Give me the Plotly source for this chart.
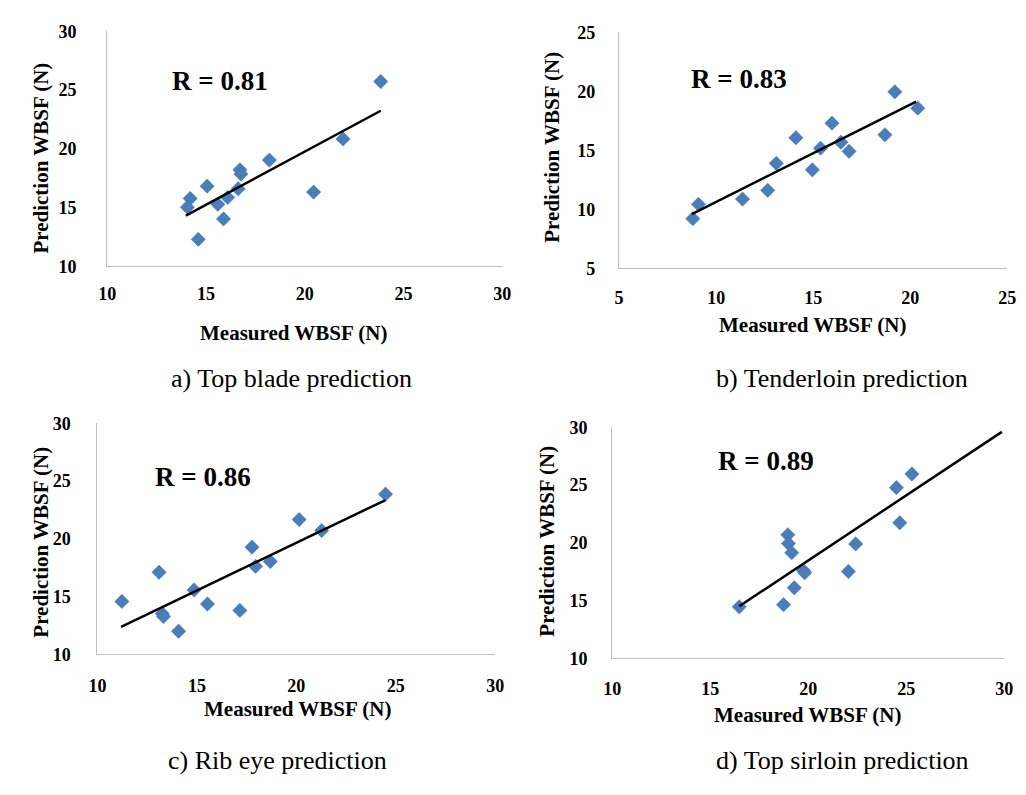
import plotly.graph_objects as go

W, H = 1026, 795

# ---- data ----
a_measured = [23.85, 21.94, 18.21, 16.72, 16.77, 15.06, 16.63, 20.45, 16.10, 14.20, 15.60, 14.06, 15.89, 14.61]
a_predicted = [25.74, 20.85, 19.05, 18.22, 17.86, 16.83, 16.61, 16.33, 15.87, 15.78, 15.28, 15.04, 14.04, 12.30]
a_trend_x = [13.98, 23.85]
a_trend_y = [14.32, 23.25]

b_measured = [19.21, 20.39, 15.97, 14.11, 18.70, 16.43, 15.38, 16.85, 13.10, 14.96, 12.66, 11.36, 9.09, 8.80]
b_predicted = [19.96, 18.58, 17.31, 16.07, 16.32, 15.69, 15.19, 14.92, 13.90, 13.35, 11.61, 10.87, 10.43, 9.21]
b_trend_x = [8.75, 20.31]
b_trend_y = [9.60, 19.13]

c_measured = [24.48, 20.14, 21.27, 17.77, 17.95, 18.69, 13.10, 14.86, 11.23, 15.53, 17.16, 13.26, 13.32, 14.08]
c_predicted = [23.87, 21.67, 20.72, 19.28, 17.62, 18.04, 17.11, 15.57, 14.58, 14.36, 13.80, 13.52, 13.27, 12.00]
c_trend_x = [11.19, 24.48]
c_trend_y = [12.39, 23.36]

d_measured = [25.29, 24.50, 24.67, 22.42, 18.96, 18.99, 19.16, 19.76, 19.82, 22.05, 19.29, 18.74, 16.48]
d_predicted = [25.95, 24.77, 21.73, 19.90, 20.69, 19.93, 19.14, 17.59, 17.40, 17.51, 16.10, 14.64, 14.45]
d_trend_x = [16.48, 29.88]
d_trend_y = [14.50, 29.60]

ticks_10_30 = [10, 15, 20, 25, 30]
ticks_5_25 = [5, 10, 15, 20, 25]

r_labels = ["R = 0.81", "R = 0.83", "R = 0.86", "R = 0.89"]
captions = ["a) Top blade prediction", "b) Tenderloin prediction",
            "c) Rib eye prediction", "d) Top sirloin prediction"]
x_title = "Measured WBSF (N)"
y_title = "Prediction WBSF (N)"

FONT = "Liberation Serif"
BLUE = "#4a7ebb"

panels = [
    dict(mx=a_measured, py=a_predicted, tx=a_trend_x, ty=a_trend_y, rng=[10, 30], ticks=ticks_10_30,
         box=(100, 502, 22, 263), standoff_y=26, standoff_x=11),
    dict(mx=b_measured, py=b_predicted, tx=b_trend_x, ty=b_trend_y, rng=[5, 25], ticks=ticks_5_25,
         box=(621, 1016, 23, 265), standoff_y=19, standoff_x=13),
    dict(mx=c_measured, py=c_predicted, tx=c_trend_x, ty=c_trend_y, rng=[10, 30], ticks=ticks_10_30,
         box=(90, 495, 424, 661), standoff_y=22, standoff_x=15),
    dict(mx=d_measured, py=d_predicted, tx=d_trend_x, ty=d_trend_y, rng=[10, 30], ticks=ticks_10_30,
         box=(614, 1013, 428, 665), standoff_y=20, standoff_x=14),
]

fig = go.Figure()
layout = {}
for i, p in enumerate(panels):
    n = "" if i == 0 else str(i + 1)
    xa, ya = "x" + n, "y" + n
    fig.add_trace(go.Scatter(x=p["mx"], y=p["py"], mode="markers", xaxis=xa, yaxis=ya,
                             marker=dict(symbol="diamond", size=11, color=BLUE,
                                         line=dict(width=0.5, color="#3d6fa8")),
                             showlegend=False, hoverinfo="skip"))
    fig.add_trace(go.Scatter(x=p["tx"], y=p["ty"], mode="lines", xaxis=xa, yaxis=ya,
                             line=dict(color="black", width=2.5), showlegend=False,
                             hoverinfo="skip"))
    x0, x1, y0, y1 = p["box"]
    common = dict(showgrid=False, zeroline=False, showline=True, linecolor="#bfbfbf",
                  linewidth=1.3, ticks="", tickmode="array", tickvals=p["ticks"],
                  ticktext=[f"<b>{t}</b>" for t in p["ticks"]],
                  tickfont=dict(family=FONT, size=18, color="black"),
                  range=p["rng"], fixedrange=True)
    layout["xaxis" + n] = dict(common, domain=[x0 / W, x1 / W], anchor=ya,
                               ticklabelstandoff=p["standoff_x"])
    layout["yaxis" + n] = dict(common, domain=[1 - y1 / H, 1 - y0 / H], anchor=xa,
                               ticklabelstandoff=p["standoff_y"])

fig.update_layout(**layout)
fig.update_layout(width=W, height=H, margin=dict(l=0, r=0, t=0, b=0),
                  plot_bgcolor="white", paper_bgcolor="white")

def ann(text, px, py, size, bold=False, angle=0):
    fig.add_annotation(text=f"<b>{text}</b>" if bold else text, x=px / W, y=1 - py / H,
                       xref="paper", yref="paper",
                       showarrow=False, textangle=angle, xanchor="center", yanchor="middle",
                       font=dict(family=FONT, size=size, color="black"))

r_pos = [(215, 73), (743, 71), (197, 479), (771, 463)]
cap_pos = [(288, 378), (848, 378), (273, 770), (848, 770)]
xt_pos = [(290, 331), (818, 323), (294, 717), (813, 723)]
yt_pos = [(33, 152), (553, 141), (33, 546), (548, 545)]

for i in range(4):
    ann(r_labels[i], *r_pos[i], 27, bold=True)
    ann(captions[i], *cap_pos[i], 26)
    ann(x_title, *xt_pos[i], 21, bold=True)
    ann(y_title, *yt_pos[i], 21, bold=True, angle=-90)

fig.write_html("out.html")
